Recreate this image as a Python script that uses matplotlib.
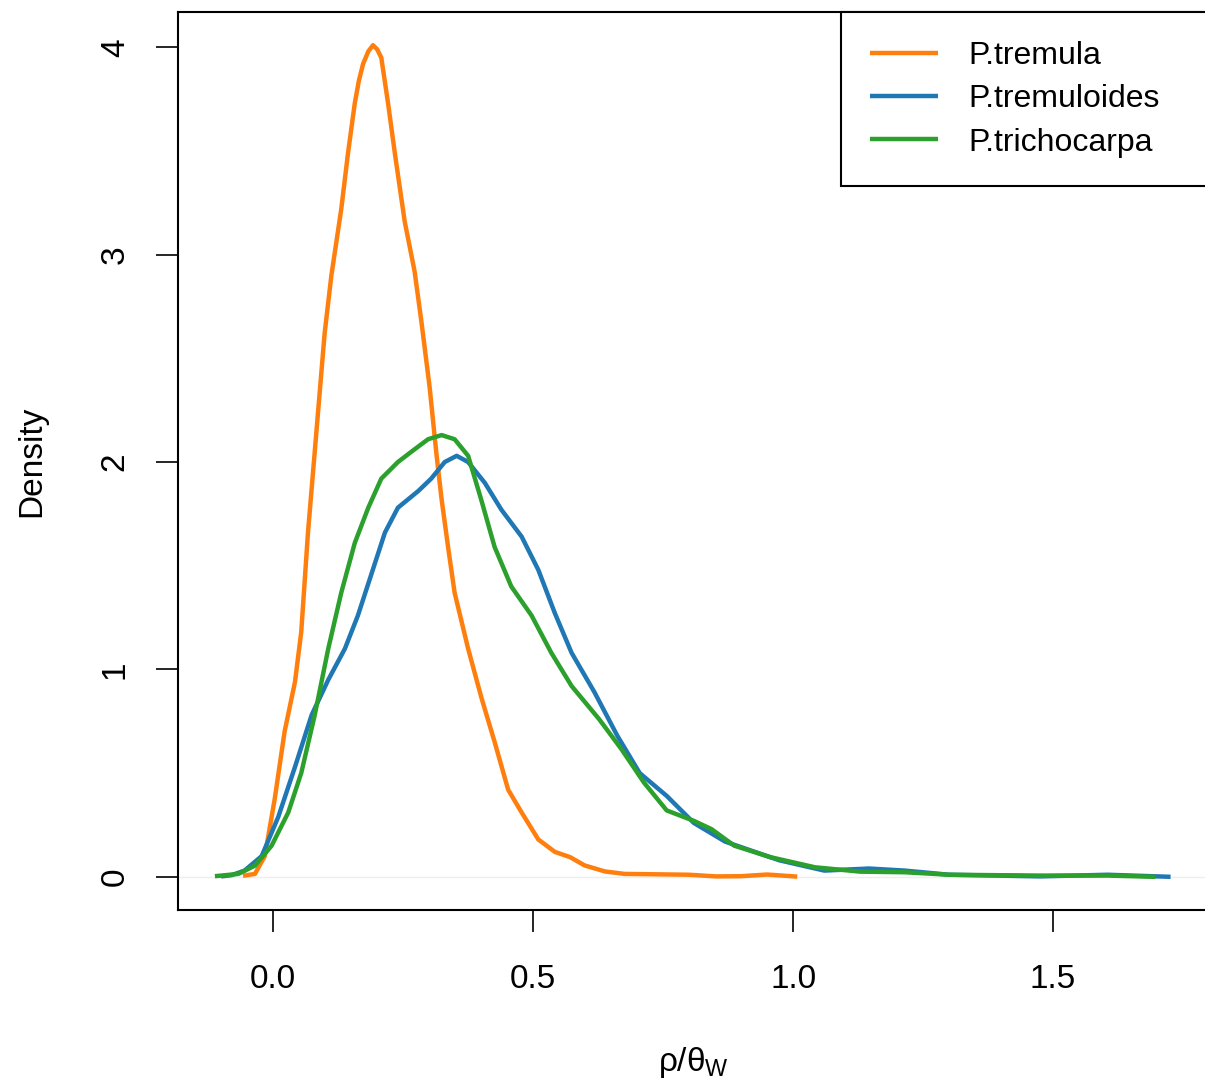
import numpy as np
import matplotlib.pyplot as plt

plt.rcParams["font.family"] = ["Liberation Sans", "DejaVu Sans"]
plt.rcParams["mathtext.fontset"] = "custom"
plt.rcParams["mathtext.rm"] = "Liberation Sans"
plt.rcParams["mathtext.it"] = "Liberation Sans"

# density curves (x, density)
tremula_x = [-0.058, -0.035, -0.016, 0.003, 0.022, 0.042, 0.054, 0.067, 0.083, 0.099,
             0.112, 0.131, 0.144, 0.157, 0.165, 0.173, 0.183, 0.192, 0.200, 0.208,
             0.221, 0.234, 0.253, 0.272, 0.285, 0.301, 0.314, 0.324, 0.337, 0.349,
             0.375, 0.401, 0.426, 0.452, 0.478, 0.510, 0.542, 0.571, 0.599, 0.638,
             0.676, 0.74, 0.80, 0.852, 0.90, 0.95, 1.008]
tremula_y = [0.005, 0.014, 0.10, 0.375, 0.70, 0.94, 1.18, 1.66, 2.14, 2.62,
             2.90, 3.22, 3.49, 3.73, 3.84, 3.92, 3.98, 4.01, 3.99, 3.95,
             3.73, 3.49, 3.16, 2.92, 2.68, 2.36, 2.04, 1.82, 1.58, 1.37,
             1.10, 0.86, 0.65, 0.42, 0.31, 0.18, 0.12, 0.095, 0.055, 0.026,
             0.014, 0.012, 0.01, 0.002, 0.003, 0.011, 0.001]

tremuloides_x = [-0.10, -0.08, -0.055, -0.022, 0.010, 0.042, 0.074, 0.106, 0.138, 0.163,
                 0.189, 0.215, 0.24, 0.279, 0.304, 0.330, 0.353, 0.375, 0.407, 0.439,
                 0.478, 0.51, 0.542, 0.574, 0.618, 0.662, 0.705, 0.757, 0.809, 0.869,
                 0.973, 1.06, 1.146, 1.215, 1.30, 1.475, 1.605, 1.726]
tremuloides_y = [0.002, 0.008, 0.03, 0.10, 0.29, 0.53, 0.78, 0.95, 1.10, 1.26,
                 1.46, 1.66, 1.78, 1.86, 1.92, 2.00, 2.03, 2.00, 1.90, 1.77,
                 1.64, 1.48, 1.27, 1.08, 0.89, 0.68, 0.50, 0.39, 0.26, 0.17,
                 0.08, 0.03, 0.04, 0.03, 0.01, 0.002, 0.01, 0.0]

trichocarpa_x = [-0.112, -0.067, -0.035, -0.003, 0.029, 0.054, 0.080, 0.106, 0.131, 0.157,
                 0.183, 0.208, 0.24, 0.266, 0.298, 0.324, 0.349, 0.375, 0.40, 0.426,
                 0.458, 0.497, 0.535, 0.574, 0.627, 0.670, 0.713, 0.757, 0.809, 0.843,
                 0.887, 0.956, 1.042, 1.129, 1.215, 1.30, 1.475, 1.605, 1.697]
trichocarpa_y = [0.003, 0.014, 0.054, 0.15, 0.31, 0.50, 0.78, 1.10, 1.37, 1.61,
                 1.78, 1.92, 2.00, 2.05, 2.11, 2.13, 2.11, 2.03, 1.82, 1.59,
                 1.40, 1.26, 1.08, 0.92, 0.76, 0.615, 0.455, 0.32, 0.27, 0.23,
                 0.15, 0.095, 0.046, 0.025, 0.022, 0.01, 0.006, 0.006, 0.0]

labels = ["P.tremula", "P.tremuloides", "P.trichocarpa"]
colors = ["#ff7f0e", "#1f77b4", "#2ca02c"]

fig = plt.figure(figsize=(12.05, 10.81), dpi=100)
ax = fig.add_axes([178 / 1205, 1 - 910 / 1081, 1030 / 1205, 898 / 1081])

ax.axhline(0, color="#eeeeee", lw=1, zorder=1)
series = [(tremula_x, tremula_y), (tremuloides_x, tremuloides_y), (trichocarpa_x, trichocarpa_y)]
for (xs, ys), lab, col in zip(series, labels, colors):
    ax.plot(xs, ys, color=col, lw=3.2, label=lab, solid_capstyle="butt",
            solid_joinstyle="round", zorder=2)

ax.set_xlim(-0.183, 1.798)
ax.set_ylim(-0.16, 4.17)
ax.set_xticks([0.0, 0.5, 1.0, 1.5])
ax.set_xticklabels(["0.0", "0.5", "1.0", "1.5"])
ax.set_yticks([0, 1, 2, 3, 4])
ax.set_yticklabels(["0", "1", "2", "3", "4"], rotation=90, va="center")
ax.tick_params(length=16, width=1.2, labelsize=24)
ax.tick_params(axis="x", pad=23)
ax.tick_params(axis="y", pad=18)
for s in ax.spines.values():
    s.set_linewidth(1.5)

ax.set_xlabel(r"$\rho/\theta_W$", fontsize=24, labelpad=36)
ax.set_ylabel("Density", fontsize=24, labelpad=38)

leg = ax.legend(loc="upper left", bbox_to_anchor=(841 / 1205, 0, 380 / 1205, 1 - 12 / 1081),
                bbox_transform=fig.transFigure, mode="expand", fontsize=23, frameon=True,
                fancybox=False, edgecolor="black", framealpha=1,
                handlelength=2.15, handletextpad=0.95, borderpad=0.9,
                labelspacing=0.42, borderaxespad=0)
leg.get_frame().set_linewidth(1.5)

fig.savefig("out.png", dpi=100)
